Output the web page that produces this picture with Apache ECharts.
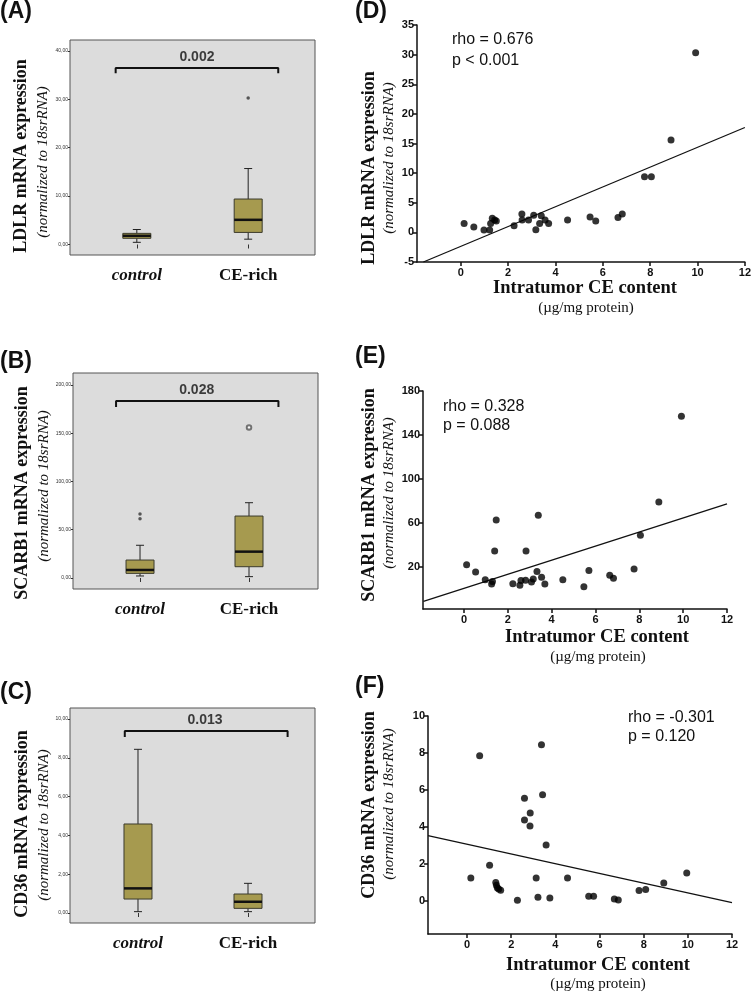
<!DOCTYPE html>
<html>
<head>
<meta charset="utf-8">
<script src="https://cdn.jsdelivr.net/npm/echarts@6/dist/echarts.min.js"></script>
<style>
html,body{margin:0;padding:0;background:#fff;}
#chart{width:754px;height:992px;}
</style>
</head>
<body>
<div id="chart"></div>
<script>
// ---------- data ----------
const groups = ['control', 'CE-rich'];
// box plot data: [lowWhisker, Q1, median, Q3, highWhisker]
const ldlrBox = [[0.45, 1.28, 1.8, 2.3, 3.1], [1.1, 2.5, 5.1, 9.4, 15.7]];
const ldlrOutliers = [[2, 30.3]];
const scarb1Box = [[2.1, 4.8, 8.3, 18.6, 33.9], [1.4, 11.7, 27.3, 64.2, 78]];
const scarb1Extremes = [[1, 61.5], [1, 66.3]];
const scarb1Outliers = [[2, 156]];
const cd36Box = [[0.07, 0.72, 1.27, 4.59, 8.44], [0.07, 0.24, 0.58, 0.98, 1.53]];
const pValues = ['0.002', '0.028', '0.013'];

const boxTicksA = [0, 10, 20, 30, 40];
const boxTicksB = [0, 50, 100, 150, 200];
const boxTicksC = [0, 2, 4, 6, 8, 10];

const ceContentD = [0.14,0.55,0.98,1.22,1.26,1.33,1.43,1.50,2.25,2.58,2.59,2.86,3.08,3.17,3.33,3.40,3.56,3.71,4.51,5.46,5.70,6.64,6.82,7.76,8.05,8.88,9.92];
const ldlrExpr = [1.5,0.9,0.4,0.4,1.5,2.4,2.1,1.9,1.1,3.1,2.1,2.1,2.9,0.45,1.5,2.8,2.1,1.5,2.1,2.6,1.9,2.5,3.1,9.4,9.4,15.6,30.3];
const ldlrFit = [[-1.58, -5], [12, 17.7]];

const ceContentE = [0.12,0.53,0.97,1.26,1.30,1.40,1.47,2.23,2.55,2.60,2.81,2.83,3.08,3.16,3.33,3.39,3.54,3.69,4.51,5.47,5.70,6.65,6.82,7.76,8.05,8.89,9.92];
const scarb1Expr = [22.1,15.5,8.5,4.5,6.7,34.5,62.7,4.8,3.3,7.6,7.9,34.5,6.4,9.1,15.8,67,10.6,4.5,8.5,2.1,16.7,12.4,9.7,18.2,48.8,79,157];
const scarb1Fit = [[-1.85, -11.2], [12, 77.3]];

const ceContentF = [0.17,0.57,1.02,1.30,1.33,1.37,1.43,1.52,2.28,2.60,2.60,2.86,2.85,3.13,3.21,3.37,3.42,3.58,3.75,4.55,5.51,5.73,6.67,6.85,7.79,8.09,8.91,9.95];
const cd36Expr = [1.25,7.85,1.93,1.0,0.85,0.72,0.65,0.58,0.05,4.38,5.55,4.76,4.06,1.25,0.2,8.45,5.75,3.03,0.16,1.25,0.26,0.26,0.11,0.06,0.57,0.63,0.98,1.52];
const cd36Fit = [[-1.77, 3.53], [12, -0.09]];

const xTicks = [0, 2, 4, 6, 8, 10, 12];
const yTicksD = [-5, 0, 5, 10, 15, 20, 25, 30, 35];
const yTicksE = [20, 60, 100, 140, 180];
const yTicksF = [0, 2, 4, 6, 8, 10];

// ---------- helpers ----------
const SANS = 'Liberation Sans';
const SERIF = 'Liberation Serif';
const zip = (xs, ys) => xs.map((x, i) => [x, ys[i]]);
const boxData = box => box.map((b, i) => [i + 1].concat(b));

function renderBox(params, api) {
  const x = api.value(0);
  const lo = api.coord([x, api.value(1)]);
  const q1 = api.coord([x, api.value(2)]);
  const md = api.coord([x, api.value(3)]);
  const q3 = api.coord([x, api.value(4)]);
  const hi = api.coord([x, api.value(5)]);
  const hw = 14, cw = 4, cx = lo[0];
  const ws = {stroke: '#222', lineWidth: 1};
  return {type: 'group', children: [
    {type: 'line', shape: {x1: cx, y1: hi[1], x2: cx, y2: q3[1]}, style: ws},
    {type: 'line', shape: {x1: cx, y1: q1[1], x2: cx, y2: lo[1]}, style: ws},
    {type: 'line', shape: {x1: cx - cw, y1: hi[1], x2: cx + cw, y2: hi[1]}, style: ws},
    {type: 'line', shape: {x1: cx - cw, y1: lo[1], x2: cx + cw, y2: lo[1]}, style: ws},
    {type: 'rect', shape: {x: cx - hw, y: q3[1], width: 2 * hw, height: q1[1] - q3[1]},
      style: {fill: '#a69a4f', stroke: '#3b3a2c', lineWidth: 1}},
    {type: 'line', shape: {x1: cx - hw, y1: md[1], x2: cx + hw, y2: md[1]}, style: {stroke: '#111', lineWidth: 2.5}}
  ]};
}

const boxGrids = [
  {left: 70, top: 40, width: 245, height: 215},
  {left: 73, top: 373, width: 245, height: 216},
  {left: 70, top: 708, width: 245, height: 215}
];
const scatGrids = [
  {left: 417, top: 25, width: 330, height: 237},
  {left: 423, top: 391, width: 304, height: 218},
  {left: 428, top: 716, width: 304, height: 218}
];
const grids = boxGrids.map(g => Object.assign({show: true, backgroundColor: '#dcdcdc', borderColor: '#555', borderWidth: 1}, g))
  .concat(scatGrids.map(g => Object.assign({show: false}, g)));

const catRich = {
  i: {fontFamily: SERIF, fontStyle: 'italic', fontWeight: 'bold', fontSize: 17, color: '#111'},
  b: {fontFamily: SERIF, fontWeight: 'bold', fontSize: 17, color: '#111'}
};
function boxX(idx, min, max) {
  return {type: 'value', gridIndex: idx, min: min, max: max,
    axisLine: {show: false}, splitLine: {show: false},
    axisTick: {show: true, customValues: [1, 2], length: 4, lineStyle: {color: '#333'}},
    axisLabel: {customValues: [1, 2], margin: 12, rich: catRich,
      formatter: v => (Math.round(v) === 1 ? '{i|' : '{b|') + groups[Math.round(v) - 1] + '}'}};
}
function boxY(idx, min, max, ticks) {
  return {type: 'value', gridIndex: idx, min: min, max: max,
    axisLine: {show: false}, splitLine: {show: false},
    axisTick: {show: true, customValues: ticks, length: 2, lineStyle: {color: '#333'}},
    axisLabel: {customValues: ticks, margin: 2, fontSize: 5, fontFamily: SANS, color: '#333',
      formatter: v => v.toFixed(2).replace('.', ',')}};
}
const axLine = {show: true, onZero: false, lineStyle: {color: '#111', width: 1.5}};
const tickLbl = {fontFamily: SANS, fontWeight: 'bold', fontSize: 11, color: '#111'};
function scatX(idx, min) {
  return {type: 'value', gridIndex: idx, min: min, max: 12,
    axisLine: axLine, splitLine: {show: false},
    axisTick: {show: true, customValues: xTicks, length: 4, lineStyle: {color: '#111', width: 1.5}},
    axisLabel: Object.assign({customValues: xTicks, margin: 5}, tickLbl)};
}
function scatY(idx, min, max, ticks) {
  return {type: 'value', gridIndex: idx, min: min, max: max,
    axisLine: axLine, splitLine: {show: false},
    axisTick: {show: true, customValues: ticks, length: 4, lineStyle: {color: '#111', width: 1.5}},
    axisLabel: Object.assign({customValues: ticks, margin: 3}, tickLbl)};
}

function bracket(idx, x1, x2, yTop, yEnd) {
  return {type: 'line', xAxisIndex: idx, yAxisIndex: idx, showSymbol: false, silent: true,
    data: [[x1, yEnd], [x1, yTop], [x2, yTop], [x2, yEnd]],
    lineStyle: {color: '#111', width: 2}, z: 5};
}
function pLabel(idx, x, y, txt) {
  return {type: 'scatter', xAxisIndex: idx, yAxisIndex: idx, symbolSize: 0, silent: true,
    data: [[x, y]],
    label: {show: true, position: 'inside', formatter: txt,
      fontFamily: SANS, fontWeight: 'bold', fontSize: 14, color: '#111'}};
}
function boxSeries(idx, box) {
  return {type: 'custom', xAxisIndex: idx, yAxisIndex: idx, renderItem: renderBox,
    encode: {x: 0, y: [1, 2, 3, 4, 5]}, data: boxData(box), z: 3};
}
function dots(idx, xs, ys) {
  return {type: 'scatter', xAxisIndex: idx, yAxisIndex: idx, data: zip(xs, ys),
    symbol: 'circle', symbolSize: 7, itemStyle: {color: '#000'}, z: 4};
}
function fit(idx, pts) {
  return {type: 'line', xAxisIndex: idx, yAxisIndex: idx, data: pts, showSymbol: false,
    lineStyle: {color: '#111', width: 1.3}, z: 3};
}

// ---------- text annotations ----------
const txt = (x, y, text, font, align, rot) => ({type: 'text', x: x, y: y, rotation: rot || 0,
  style: {text: text, font: font, fill: '#111', textAlign: align || 'center', textVerticalAlign: 'middle'}});
const letterFont = 'bold 23px "' + SANS + '"';
const titleFont = 'bold 18px "' + SERIF + '"';
const subFont = 'italic 15px "' + SERIF + '"';
const statFont = '16px "' + SANS + '"';
const xTitleFont = 'bold 18.5px "' + SERIF + '"';
const xSubFont = '15px "' + SERIF + '"';
const R = Math.PI / 2;

const graphics = [
  txt(0, 12, '(A)', letterFont, 'left'),
  txt(0, 362, '(B)', letterFont, 'left'),
  txt(0, 693, '(C)', letterFont, 'left'),
  txt(355, 12, '(D)', letterFont, 'left'),
  txt(355, 357, '(E)', letterFont, 'left'),
  txt(355, 687, '(F)', letterFont, 'left'),
  txt(21, 156, 'LDLR mRNA expression', titleFont, 'center', R),
  txt(43, 162, '(normalized to 18srRNA)', subFont, 'center', R),
  txt(22, 493, 'SCARB1 mRNA expression', titleFont, 'center', R),
  txt(44, 486, '(normalized to 18srRNA)', subFont, 'center', R),
  txt(22, 824, 'CD36 mRNA expression', titleFont, 'center', R),
  txt(44, 825, '(normalized to 18srRNA)', subFont, 'center', R),
  txt(369, 168, 'LDLR mRNA expression', titleFont, 'center', R),
  txt(389, 158, '(normalized to 18srRNA)', subFont, 'center', R),
  txt(369, 495, 'SCARB1 mRNA expression', titleFont, 'center', R),
  txt(389, 493, '(normalized to 18srRNA)', subFont, 'center', R),
  txt(369, 805, 'CD36 mRNA expression', titleFont, 'center', R),
  txt(389, 804, '(normalized to 18srRNA)', subFont, 'center', R),
  txt(452, 40, 'rho = 0.676', statFont, 'left'),
  txt(452, 61, 'p < 0.001', statFont, 'left'),
  txt(443, 407, 'rho = 0.328', statFont, 'left'),
  txt(443, 426, 'p = 0.088', statFont, 'left'),
  txt(628, 718, 'rho = -0.301', statFont, 'left'),
  txt(628, 737, 'p = 0.120', statFont, 'left'),
  txt(585, 288, 'Intratumor CE content', xTitleFont),
  txt(586, 308, '(\u00b5g/mg protein)', xSubFont),
  txt(597, 637, 'Intratumor CE content', xTitleFont),
  txt(598, 657, '(\u00b5g/mg protein)', xSubFont),
  txt(598, 965, 'Intratumor CE content', xTitleFont),
  txt(598, 984, '(\u00b5g/mg protein)', xSubFont)
];

const option = {
  animation: false,
  backgroundColor: '#ffffff',
  grid: grids,
  xAxis: [
    boxX(0, 0.4, 2.6), boxX(1, 0.385, 2.633), boxX(2, 0.382, 2.609),
    scatX(3, -1.85), scatX(4, -1.87), scatX(5, -1.77)
  ],
  yAxis: [
    boxY(0, -2.17, 42.27, boxTicksA), boxY(1, -11.4, 212.4, boxTicksB), boxY(2, -0.515, 10.57, boxTicksC),
    scatY(3, -5, 35, yTicksD), scatY(4, -18.2, 180, yTicksE), scatY(5, -1.78, 10, yTicksF)
  ],
  series: [
    boxSeries(0, ldlrBox),
    {type: 'scatter', xAxisIndex: 0, yAxisIndex: 0, data: ldlrOutliers, symbol: 'circle', symbolSize: 3.5, itemStyle: {color: '#333'}},
    bracket(0, 0.81, 2.27, 36.5, 35.4),
    pLabel(0, 1.54, 38.7, pValues[0]),

    boxSeries(1, scarb1Box),
    {type: 'scatter', xAxisIndex: 1, yAxisIndex: 1, data: scarb1Extremes, symbol: 'circle', symbolSize: 3.5, itemStyle: {color: '#333'}},
    {type: 'scatter', xAxisIndex: 1, yAxisIndex: 1, data: scarb1Outliers, symbol: 'emptyCircle', symbolSize: 4.5, itemStyle: {color: '#555', borderWidth: 1}},
    bracket(1, 0.78, 2.27, 183.4, 177.2),
    pLabel(1, 1.52, 195, pValues[1]),

    boxSeries(2, cd36Box),
    bracket(2, 0.88, 2.36, 9.38, 9.07),
    pLabel(2, 1.61, 9.95, pValues[2]),

    fit(3, ldlrFit), dots(3, ceContentD, ldlrExpr),
    fit(4, scarb1Fit), dots(4, ceContentE, scarb1Expr),
    fit(5, cd36Fit), dots(5, ceContentF, cd36Expr)
  ],
  graphic: graphics
};

const chart = echarts.init(document.getElementById('chart'), null, {renderer: 'canvas'});
chart.setOption(option);
</script>
</body>
</html>
